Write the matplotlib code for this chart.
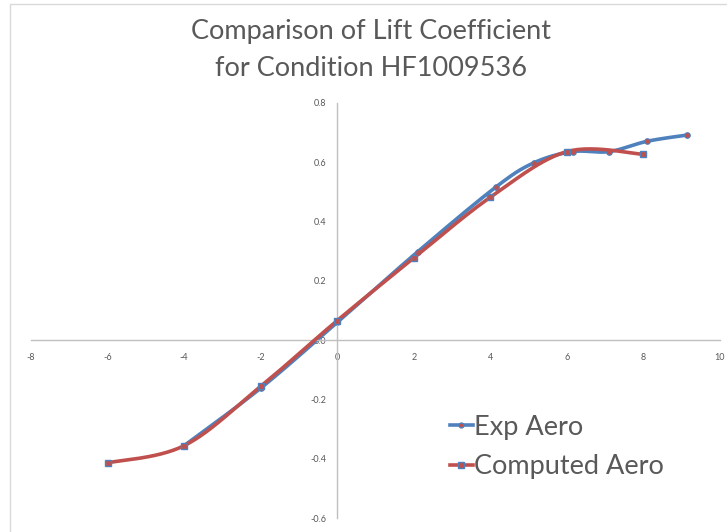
import numpy as np
import matplotlib
matplotlib.use('Agg')
import matplotlib.pyplot as plt
from matplotlib.patches import Rectangle

plt.rcParams['font.family'] = ['Lato', 'DejaVu Sans']
plt.rcParams['axes.unicode_minus'] = False

# data
exp_alpha = [-4.0, -2.0, 0.0, 2.1, 4.15, 5.15, 6.15, 7.1, 8.1, 9.15]
exp_cl = [-0.356, -0.162, 0.06, 0.298, 0.517, 0.599, 0.636, 0.636, 0.671, 0.692]

comp_alpha = [-6, -4, -2, 0, 2, 4, 6, 8]
comp_cl = [-0.414, -0.356, -0.156, 0.066, 0.277, 0.482, 0.636, 0.627]

x_ticks = [-8, -6, -4, -2, 0, 2, 4, 6, 8, 10]
y_ticks = [-0.6, -0.4, -0.2, 0.0, 0.2, 0.4, 0.6, 0.8]

blue = '#4F81BD'
red = '#C0504D'
grey_txt = '#595959'


# excel-style smoothed line (catmull-rom bezier)
def smooth(xs, ys, n=30):
    p = np.column_stack([xs, ys]).astype(float)
    out = [p[0]]
    t = np.linspace(0, 1, n)[1:, None]
    for i in range(len(p) - 1):
        p0 = p[i - 1] if i > 0 else p[i]
        p1 = p[i]
        p2 = p[i + 1]
        p3 = p[i + 2] if i + 2 < len(p) else p[i + 1]
        c1 = p1 + (p2 - p0) / 6
        c2 = p2 - (p3 - p1) / 6
        seg = ((1 - t) ** 3) * p1 + 3 * ((1 - t) ** 2) * t * c1 + 3 * (1 - t) * t ** 2 * c2 + t ** 3 * p2
        out.extend(seg)
    out = np.array(out)
    return out[:, 0], out[:, 1]


fig = plt.figure(figsize=(7.27, 5.32), dpi=100)
fig.patches.append(Rectangle((10 / 727, -0.1), 1.2, 1.1 - 4 / 532, transform=fig.transFigure,
                             fill=False, edgecolor='#d9d9d9', linewidth=1))

ax = fig.add_axes([31 / 727, 1 - 518 / 532, (720 - 31) / 727, (518 - 103) / 532])
ax.set_xlim(-8, 10)
ax.set_ylim(-0.6, 0.8)

for s in ['top', 'right']:
    ax.spines[s].set_visible(False)
ax.spines['left'].set_position(('data', 0))
ax.spines['bottom'].set_position(('data', 0))
for s in ['left', 'bottom']:
    ax.spines[s].set_color('#bfbfbf')
    ax.spines[s].set_linewidth(1)

ax.set_xticks(x_ticks)
ax.set_xticklabels([str(v) for v in x_ticks])
ax.set_yticks(y_ticks)
ax.set_yticklabels(['%.1f' % v for v in y_ticks])
ax.tick_params(axis='both', length=0, labelsize=6.5, labelcolor=grey_txt)
ax.tick_params(axis='x', pad=9)
ax.tick_params(axis='y', pad=8)

sx, sy = smooth(exp_alpha, exp_cl)
ax.plot(sx, sy, color=blue, lw=2.6, solid_capstyle='round', zorder=2)
ax.plot(exp_alpha, exp_cl, ls='none', marker='o', ms=4, mfc=red, mec=blue, mew=0.8, zorder=2)

cx, cy = smooth(comp_alpha, comp_cl)
ax.plot(cx, cy, color=red, lw=2.6, solid_capstyle='round', zorder=3)
ax.plot(comp_alpha, comp_cl, ls='none', marker='s', ms=5, mfc=red, mec=blue, mew=1, zorder=3)

# legend handles
h1, = ax.plot([], [], color=blue, lw=2.6, marker='o', ms=3.5, mfc=red, mec=blue)
h2, = ax.plot([], [], color=red, lw=2.6, marker='s', ms=4, mfc=red, mec=blue)
leg = ax.legend([h1, h2], ['Exp Aero', 'Computed Aero'], loc='upper left',
                bbox_to_anchor=(436 / 727, 1 - 401 / 532), bbox_transform=fig.transFigure,
                frameon=False, fontsize=19.5, handlelength=0.85, handletextpad=0.05,
                labelspacing=0.55, borderpad=0)
for t in leg.get_texts():
    t.set_color(grey_txt)

fig.text(371 / 727, 1 - 32 / 532, 'Comparison of Lift Coefficient', ha='center', va='center',
         fontsize=19.5, color=grey_txt)
fig.text(371 / 727, 1 - 68 / 532, 'for Condition HF1009536', ha='center', va='center',
         fontsize=19.5, color=grey_txt)

fig.savefig('out.png', dpi=100)
